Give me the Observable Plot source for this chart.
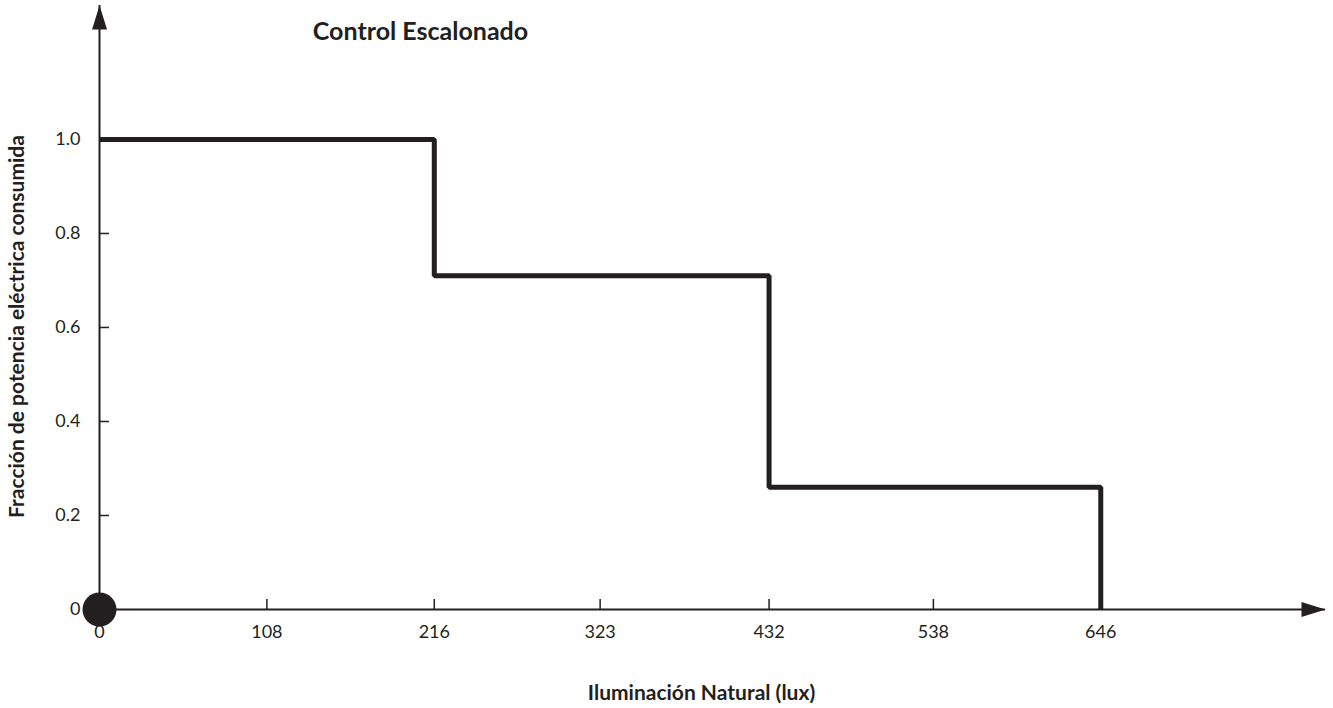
<!DOCTYPE html>
<html><head><meta charset="utf-8">
<script src="https://cdn.jsdelivr.net/npm/d3@7"></script>
<script src="https://cdn.jsdelivr.net/npm/@observablehq/plot@0.6"></script>
<style>body{margin:0;background:#fff}</style>
</head><body><div id="chart"></div>
<script>
const title = "Control Escalonado";
const xLabel = "Iluminación Natural (lux)";
const yLabel = "Fracción de potencia eléctrica consumida";
// step control: fraction of power as function of natural illuminance
const lux = [0, 216, 432, 646];
const fraction = [1.0, 0.71, 0.26, 0];
const xTicks = [0, 108, 216, 323, 432, 538, 646];
const yTicks = [0, 0.2, 0.4, 0.6, 0.8, 1.0];
const yTickLabels = ["0", "0.2", "0.4", "0.6", "0.8", "1.0"];
const xMax = 791, yMax = 1.285;

const ink = "#231f20";
const steps = lux.map((x, i) => ({x, y: fraction[i]}));
const arrowHead = {draw(ctx) { ctx.moveTo(0, 0); ctx.lineTo(-7.5, 24); ctx.lineTo(7.5, 24); ctx.closePath(); }};

const chart = Plot.plot({
  width: 1333, height: 708,
  marginLeft: 99, marginRight: 8, marginTop: 5, marginBottom: 99,
  style: {fontFamily: "Lato, 'Open Sans', sans-serif", fontSize: "18px", color: ink, background: "#fff"},
  x: {domain: [0, xMax]},
  y: {domain: [0, yMax]},
  marks: [
    Plot.ruleY([0], {stroke: ink, strokeWidth: 2}),
    Plot.ruleX([0], {stroke: ink, strokeWidth: 2}),
    Plot.ruleX(xTicks, {x: d => d, y1: 0, y2: 0, insetTop: -10, stroke: ink, strokeWidth: 1.5}),
    Plot.ruleY(yTicks, {y: d => d, x1: 0, x2: 0, insetRight: -10, stroke: ink, strokeWidth: 1.5}),
    Plot.axisX(xTicks, {tickSize: 0, tickPadding: 16, label: null, fill: ink, fontSize: 18}),
    Plot.axisY(yTicks, {tickSize: 0, tickPadding: 19, label: null, fill: ink, fontSize: 18,
      tickFormat: d => yTickLabels[yTicks.indexOf(d)]}),
    Plot.line(steps, {x: "x", y: "y", curve: "step-after", stroke: ink, strokeWidth: 5,
      strokeLinejoin: "miter", strokeLinecap: "butt"}),
    Plot.dot([{x: 0, y: yMax}], {x: "x", y: "y", symbol: arrowHead, fill: ink, stroke: null}),
    Plot.dot([{x: xMax, y: 0}], {x: "x", y: "y", symbol: arrowHead, fill: ink, stroke: null, rotate: 90}),
    Plot.dot([{x: 0, y: 0}], {x: "x", y: "y", r: 17, fill: ink, stroke: null}),
    Plot.text([title], {text: d => d, frameAnchor: "top-left", dx: 321, dy: 26,
      textAnchor: "middle", lineAnchor: "middle", fontWeight: "bold", fontSize: 25, fill: ink}),
    Plot.text([xLabel], {text: d => d, frameAnchor: "bottom", dx: -11, dy: 84,
      textAnchor: "middle", lineAnchor: "middle", fontWeight: "bold", fontSize: 21, fill: ink}),
    Plot.text([yLabel], {text: d => d, frameAnchor: "left", dx: -82, dy: 19, rotate: -90,
      textAnchor: "middle", lineAnchor: "middle", fontWeight: "bold", fontSize: 21, fill: ink})
  ]
});
document.getElementById("chart").append(chart);
</script>
</body></html>
